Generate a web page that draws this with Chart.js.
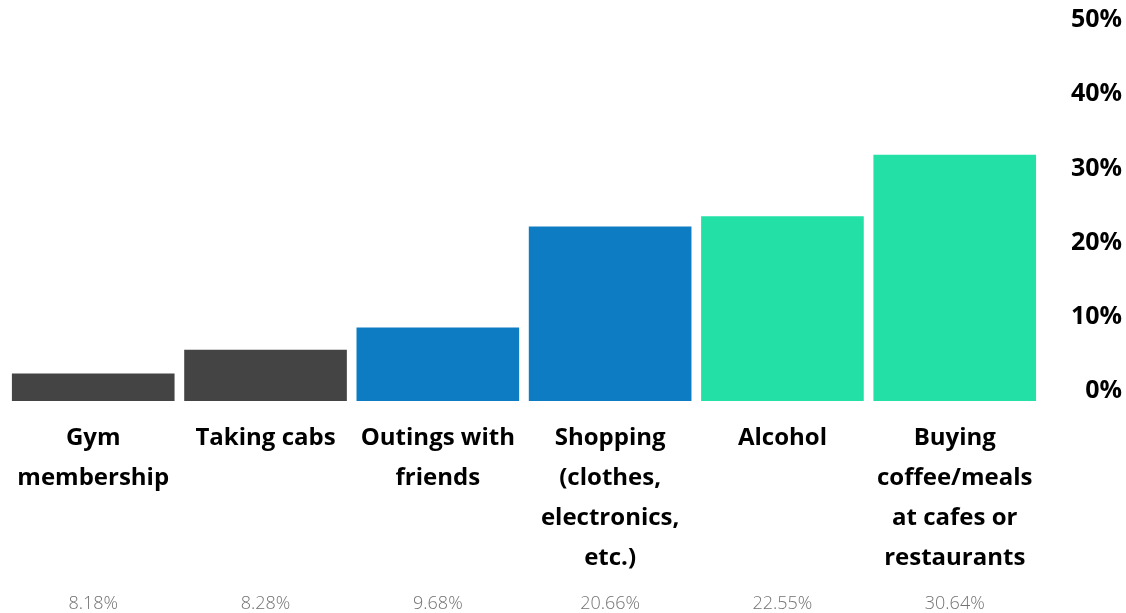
<!DOCTYPE html>
<html>
<head>
<meta charset="utf-8">
<script src="https://cdn.jsdelivr.net/npm/chart.js@4"></script>
<style>
  html, body { margin: 0; padding: 0; background: #ffffff; }
  #wrap { width: 1126px; height: 613px; }
</style>
</head>
<body>
<div id="wrap"><canvas id="chart"></canvas></div>
<script>
const categories = [
  ['Gym', 'membership'],
  ['Taking cabs'],
  ['Outings with', 'friends'],
  ['Shopping', '(clothes,', 'electronics,', 'etc.)'],
  ['Alcohol'],
  ['Buying', 'coffee/meals', 'at cafes or', 'restaurants']
];
const barValues = [3.7, 6.9, 9.9, 23.5, 24.9, 33.2];
const shareLabels = ['8.18%', '8.28%', '9.68%', '20.66%', '22.55%', '30.64%'];
const barColours = ['#444444', '#444444', '#0e7cc3', '#0e7cc3', '#22e0a6', '#22e0a6'];
const yTicks = [0, 10, 20, 30, 40, 50];

const fontFamily = "'Open Sans', 'Noto Sans', sans-serif";

new Chart(document.getElementById('chart'), {
  type: 'bar',
  data: {
    labels: categories,
    datasets: [{
      data: barValues,
      backgroundColor: barColours,
      borderWidth: 0,
      barPercentage: 0.944,
      categoryPercentage: 1
    }]
  },
  options: {
    responsive: true,
    maintainAspectRatio: false,
    animation: false,
    layout: { padding: { left: 4, right: 4, top: 28, bottom: 0 } },
    plugins: { legend: { display: false }, tooltip: { enabled: false } },
    scales: {
      x: {
        weight: 0,
        grid: { display: false, drawTicks: false },
        border: { display: false },
        ticks: { color: '#000000', font: { family: fontFamily, size: 24, weight: 'bold', lineHeight: 1.667 }, padding: 17, maxRotation: 0, autoSkip: false }
      },
      // grey shares under the category names
      x2: {
        type: 'category',
        position: 'bottom',
        weight: 1,
        offset: true,
        labels: shareLabels,
        grid: { display: false, drawTicks: false },
        border: { display: false },
        ticks: { color: '#727272', font: { family: fontFamily, size: 18, weight: 300, lineHeight: 1 }, padding: 0, maxRotation: 0, autoSkip: false }
      },
      y: {
        position: 'right',
        min: 0,
        max: 50,
        afterBuildTicks: axis => { axis.ticks = yTicks.map(v => ({ value: v })); },
        grid: { display: false, drawTicks: false },
        border: { display: false },
        ticks: {
          color: '#000000',
          font: { family: fontFamily, size: 25, weight: 'bold' },
          padding: 15,
          crossAlign: 'far',
          labelOffset: -10,
          callback: v => v + '%'
        }
      }
    }
  }
});
</script>
</body>
</html>
